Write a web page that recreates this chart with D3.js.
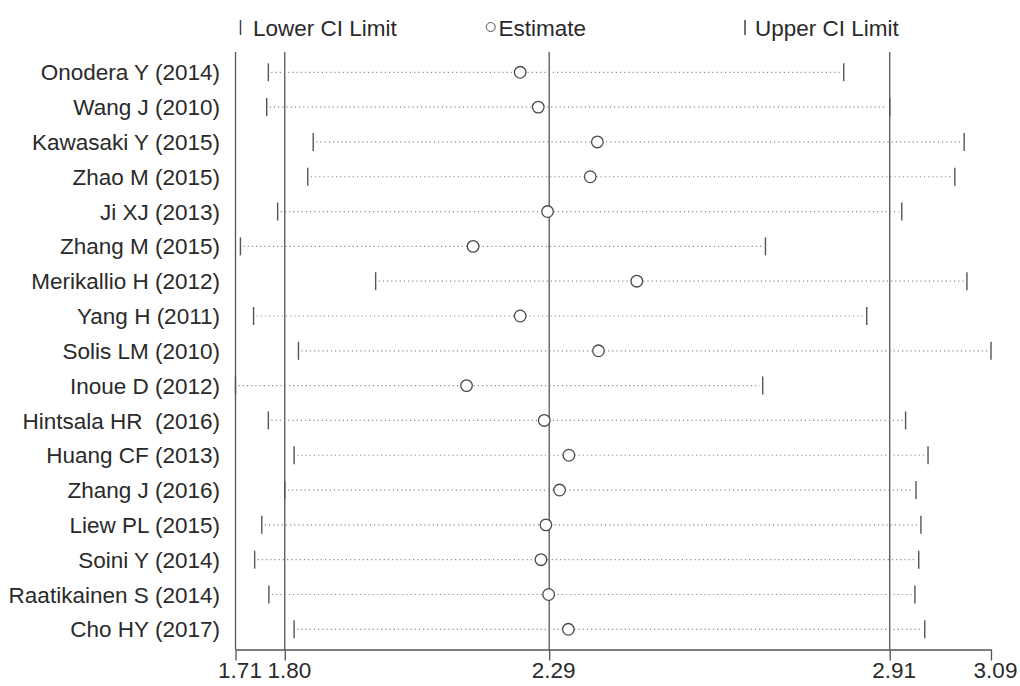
<!DOCTYPE html>
<html>
<head>
<meta charset="utf-8">
<script src="https://cdn.jsdelivr.net/npm/d3@7"></script>
<style>
  body { margin: 0; background: #fff; }
  svg text { font-family: "Liberation Sans", Arial, sans-serif; fill: #2a2a2a; white-space: pre; }
</style>
</head>
<body>
<svg id="chart" width="1020" height="686"></svg>
<script>
const studies = ["Onodera Y (2014)", "Wang J (2010)", "Kawasaki Y (2015)", "Zhao M (2015)", "Ji XJ (2013)",
  "Zhang M (2015)", "Merikallio H (2012)", "Yang H (2011)", "Solis LM (2010)", "Inoue D (2012)",
  "Hintsala HR  (2016)", "Huang CF (2013)", "Zhang J (2016)", "Liew PL (2015)", "Soini Y (2014)",
  "Raatikainen S (2014)", "Cho HY (2017)"];
const lowerCI = [1.770, 1.767, 1.852, 1.842, 1.787, 1.719, 1.966, 1.743, 1.825, 1.710,
  1.770, 1.817, 1.800, 1.758, 1.745, 1.771, 1.817];
const estimate = [2.230, 2.263, 2.371, 2.358, 2.280, 2.144, 2.443, 2.230, 2.373, 2.132,
  2.274, 2.319, 2.302, 2.277, 2.268, 2.282, 2.318];
const upperCI = [2.821, 2.905, 3.041, 3.024, 2.927, 2.678, 3.046, 2.863, 3.090, 2.673,
  2.934, 2.975, 2.953, 2.962, 2.958, 2.951, 2.969];
const tickValues = [1.71, 1.80, 2.283, 2.905, 3.09];
const tickLabels = ["1.71", "1.80", "2.29", "2.91", "3.09"];
const refLines = [1.80, 2.283, 2.905];
const legendItems = ["Lower CI Limit", "Estimate", "Upper CI Limit"];

const FONT = 22.5;
const svg = d3.select("#chart");
const x = d3.scaleLinear().domain([1.71, 3.09]).range([235.5, 991]);
const y = d3.scalePoint().domain(studies).range([72.3, 629.3]);
const plotTop = 52, axisY = 649.5;
const data = studies.map((s, i) => ({ s, lo: lowerCI[i], est: estimate[i], hi: upperCI[i] }));

// left axis line
svg.append("line").attr("x1", x(1.71)).attr("x2", x(1.71)).attr("y1", plotTop).attr("y2", axisY)
  .attr("stroke", "#555").attr("stroke-width", 1.3);
// reference lines
svg.selectAll(".ref").data(refLines).join("line")
  .attr("x1", d => x(d)).attr("x2", d => x(d)).attr("y1", plotTop).attr("y2", axisY)
  .attr("stroke", "#555").attr("stroke-width", 1.3);

// x axis
const axis = d3.axisBottom(x).tickValues(tickValues).tickFormat((d, i) => tickLabels[i])
  .tickSize(11).tickSizeOuter(0);
const gx = svg.append("g").attr("transform", `translate(0,${axisY})`).call(axis);
gx.select(".domain").attr("stroke", "#555").attr("stroke-width", 1.3);
gx.selectAll(".tick line").attr("stroke", "#555").attr("stroke-width", 1.3);
gx.selectAll(".tick text").attr("font-size", FONT).attr("y", 12.5).attr("dx", 4).attr("fill", "#2a2a2a")
  .attr("font-family", "'Liberation Sans', Arial, sans-serif");

// dotted CI lines
svg.selectAll(".ci").data(data).join("line")
  .attr("x1", d => x(d.lo) + 3).attr("x2", d => x(d.hi) - 3)
  .attr("y1", d => y(d.s)).attr("y2", d => y(d.s))
  .attr("stroke", "#8a8a8a").attr("stroke-width", 1.2).attr("stroke-dasharray", "1.2,3");
// lower / upper ticks
svg.selectAll(".lo").data(data).join("line")
  .attr("x1", d => x(d.lo)).attr("x2", d => x(d.lo))
  .attr("y1", d => y(d.s) - 9).attr("y2", d => y(d.s) + 9)
  .attr("stroke", "#555").attr("stroke-width", 1.4);
svg.selectAll(".hi").data(data).join("line")
  .attr("x1", d => x(d.hi)).attr("x2", d => x(d.hi))
  .attr("y1", d => y(d.s) - 9).attr("y2", d => y(d.s) + 9)
  .attr("stroke", "#555").attr("stroke-width", 1.4);
// estimates
svg.selectAll(".est").data(data).join("circle")
  .attr("cx", d => x(d.est)).attr("cy", d => y(d.s)).attr("r", 5.8)
  .attr("fill", "#fff").attr("stroke", "#4a4a4a").attr("stroke-width", 1.3);

// study labels
svg.selectAll(".lab").data(data).join("text")
  .attr("x", 220).attr("y", d => y(d.s)).attr("dy", "0.36em")
  .attr("text-anchor", "end").attr("font-size", FONT).text(d => d.s);

// legend
const lg = svg.append("g");
lg.append("line").attr("x1", 240.5).attr("x2", 240.5).attr("y1", 20).attr("y2", 35).attr("stroke", "#444").attr("stroke-width", 1.5);
lg.append("text").attr("x", 253).attr("y", 36).attr("font-size", FONT).text(legendItems[0]);
lg.append("circle").attr("cx", 490.7).attr("cy", 27).attr("r", 4.5).attr("fill", "#fff").attr("stroke", "#555").attr("stroke-width", 1);
lg.append("text").attr("x", 498.5).attr("y", 36).attr("font-size", FONT).text(legendItems[1]);
lg.append("line").attr("x1", 745).attr("x2", 745).attr("y1", 20).attr("y2", 35).attr("stroke", "#444").attr("stroke-width", 1.5);
lg.append("text").attr("x", 755).attr("y", 36).attr("font-size", FONT).text(legendItems[2]);
</script>
</body>
</html>
